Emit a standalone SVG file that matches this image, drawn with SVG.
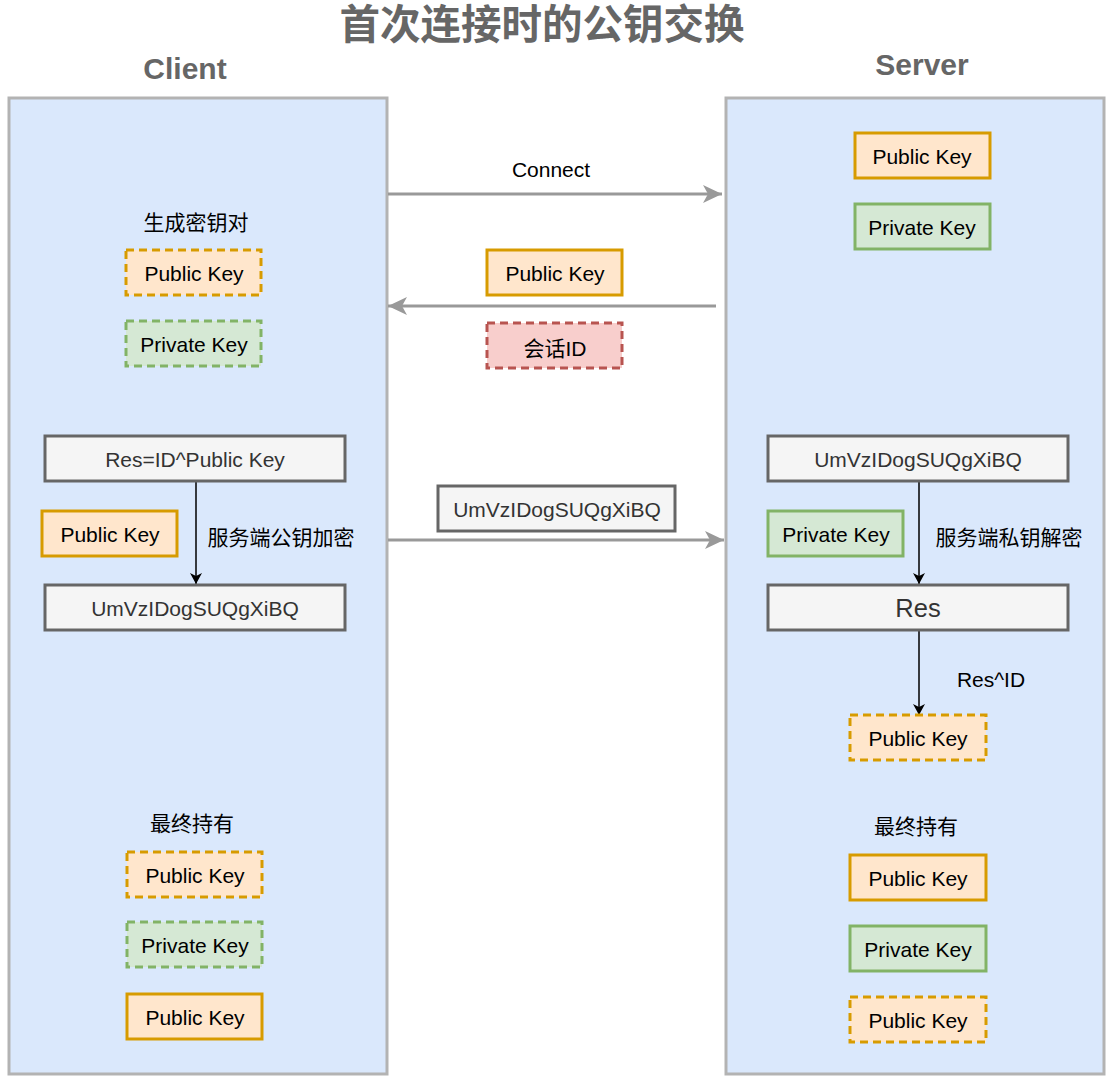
<svg xmlns="http://www.w3.org/2000/svg" width="1113" height="1081" viewBox="0 0 1113 1081">
<style>
text{font-family:"Liberation Sans","Noto Sans CJK SC",Arial,sans-serif;font-size:21px;fill:#000;text-anchor:middle;dominant-baseline:central}
.head{font-weight:bold;fill:#666;font-size:30px}
.title{font-weight:bold;fill:#666;font-size:40.5px}
.panel{fill:#dae8fc;stroke:#b3b3b3;stroke-width:3}
.pub{fill:#ffe6cc;stroke:#d79b00;stroke-width:3}
.priv{fill:#d5e8d4;stroke:#82b366;stroke-width:3}
.sid{fill:#f8cecc;stroke:#b85450;stroke-width:3}
.gray{fill:#f5f5f5;stroke:#666;stroke-width:3}
.dash{stroke-dasharray:8 5}
.gt{fill:#333}
.garrow{stroke:#999;stroke-width:3;fill:none}
.barrow{stroke:#000;stroke-width:1.5;fill:none}
</style>
<defs>
<marker id="ga" markerUnits="userSpaceOnUse" markerWidth="20" markerHeight="18" refX="19" refY="9" orient="auto" viewBox="0 0 20 18">
<path d="M0,0 L19,9 L0,18 L5,9 Z" fill="#999"/>
</marker>
<marker id="ba" markerUnits="userSpaceOnUse" markerWidth="12" markerHeight="12" refX="11" refY="6" orient="auto" viewBox="0 0 12 12">
<path d="M0,0 L11,6 L0,12 L3,6 Z" fill="#000"/>
</marker>
</defs>
<rect width="1113" height="1081" fill="#fff"/>
<text class="title" x="542" y="25">首次连接时的公钥交换</text>
<text class="head" x="185" y="68">Client</text>
<text class="head" x="922" y="64">Server</text>
<g id="client-panel"><rect class="panel" x="9" y="98" width="378" height="976"/></g>
<g id="server-panel"><rect class="panel" x="726" y="98" width="378" height="976"/></g>

<g id="connectors">
<line class="garrow" x1="388" y1="194" x2="722" y2="194" marker-end="url(#ga)"/>
<line class="garrow" x1="716" y1="306" x2="388" y2="306" marker-end="url(#ga)"/>
<line class="garrow" x1="388" y1="540" x2="724" y2="540" marker-end="url(#ga)"/>
<line class="barrow" x1="196" y1="482" x2="196" y2="584" marker-end="url(#ba)"/>
<line class="barrow" x1="919" y1="482" x2="919" y2="584" marker-end="url(#ba)"/>
<line class="barrow" x1="919" y1="631" x2="919" y2="715" marker-end="url(#ba)"/>
<text x="551" y="169">Connect</text>
<text x="281" y="537">服务端公钥加密</text>
<text x="1009" y="537">服务端私钥解密</text>
<text x="991" y="679">Res^ID</text>
</g>

<g id="srv-pub"><rect class="pub" x="855" y="133" width="135" height="45"/><text x="922" y="156">Public Key</text></g>
<g id="srv-priv"><rect class="priv" x="855" y="204" width="135" height="45"/><text x="922" y="227">Private Key</text></g>

<g id="cli-gen-label"><text x="196" y="222">生成密钥对</text></g>
<g id="cli-pub"><rect class="pub dash" x="126" y="250" width="135" height="45"/><text x="194" y="273">Public Key</text></g>
<g id="cli-priv"><rect class="priv dash" x="126" y="321" width="135" height="45"/><text x="194" y="344">Private Key</text></g>

<g id="mid-pub"><rect class="pub" x="487" y="250" width="135" height="45"/><text x="555" y="273">Public Key</text></g>
<g id="mid-sid"><rect class="sid dash" x="487" y="323" width="135" height="45"/><text x="555" y="348">会话ID</text></g>

<g id="cli-res"><rect class="gray" x="45" y="436" width="300" height="45"/><text class="gt" x="195" y="459">Res=ID^Public Key</text></g>
<g id="cli-pub2"><rect class="pub" x="42" y="511" width="135" height="45"/><text x="110" y="534">Public Key</text></g>
<g id="cli-enc"><rect class="gray" x="45" y="585" width="300" height="45"/><text class="gt" x="195" y="608">UmVzIDogSUQgXiBQ</text></g>

<g id="mid-enc"><rect class="gray" x="438" y="486" width="237" height="45"/><text class="gt" x="557" y="509">UmVzIDogSUQgXiBQ</text></g>

<g id="srv-enc"><rect class="gray" x="768" y="436" width="300" height="45"/><text class="gt" x="918" y="459">UmVzIDogSUQgXiBQ</text></g>
<g id="srv-priv2"><rect class="priv" x="768" y="511" width="135" height="45"/><text x="836" y="534">Private Key</text></g>
<g id="srv-res"><rect class="gray" x="768" y="585" width="300" height="45"/><text class="gt" x="918" y="608" style="font-size:25.5px">Res</text></g>
<g id="srv-pub-derived"><rect class="pub dash" x="850" y="715" width="136" height="45"/><text x="918" y="738">Public Key</text></g>

<g id="cli-final-label"><text x="192" y="823">最终持有</text></g>
<g id="cli-f1"><rect class="pub dash" x="127" y="852" width="135" height="45"/><text x="195" y="875">Public Key</text></g>
<g id="cli-f2"><rect class="priv dash" x="127" y="922" width="135" height="45"/><text x="195" y="945">Private Key</text></g>
<g id="cli-f3"><rect class="pub" x="127" y="994" width="135" height="45"/><text x="195" y="1017">Public Key</text></g>

<g id="srv-final-label"><text x="916" y="826">最终持有</text></g>
<g id="srv-f1"><rect class="pub" x="850" y="855" width="136" height="45"/><text x="918" y="878">Public Key</text></g>
<g id="srv-f2"><rect class="priv" x="850" y="926" width="136" height="45"/><text x="918" y="949">Private Key</text></g>
<g id="srv-f3"><rect class="pub dash" x="850" y="997" width="136" height="45"/><text x="918" y="1020">Public Key</text></g>
</svg>
